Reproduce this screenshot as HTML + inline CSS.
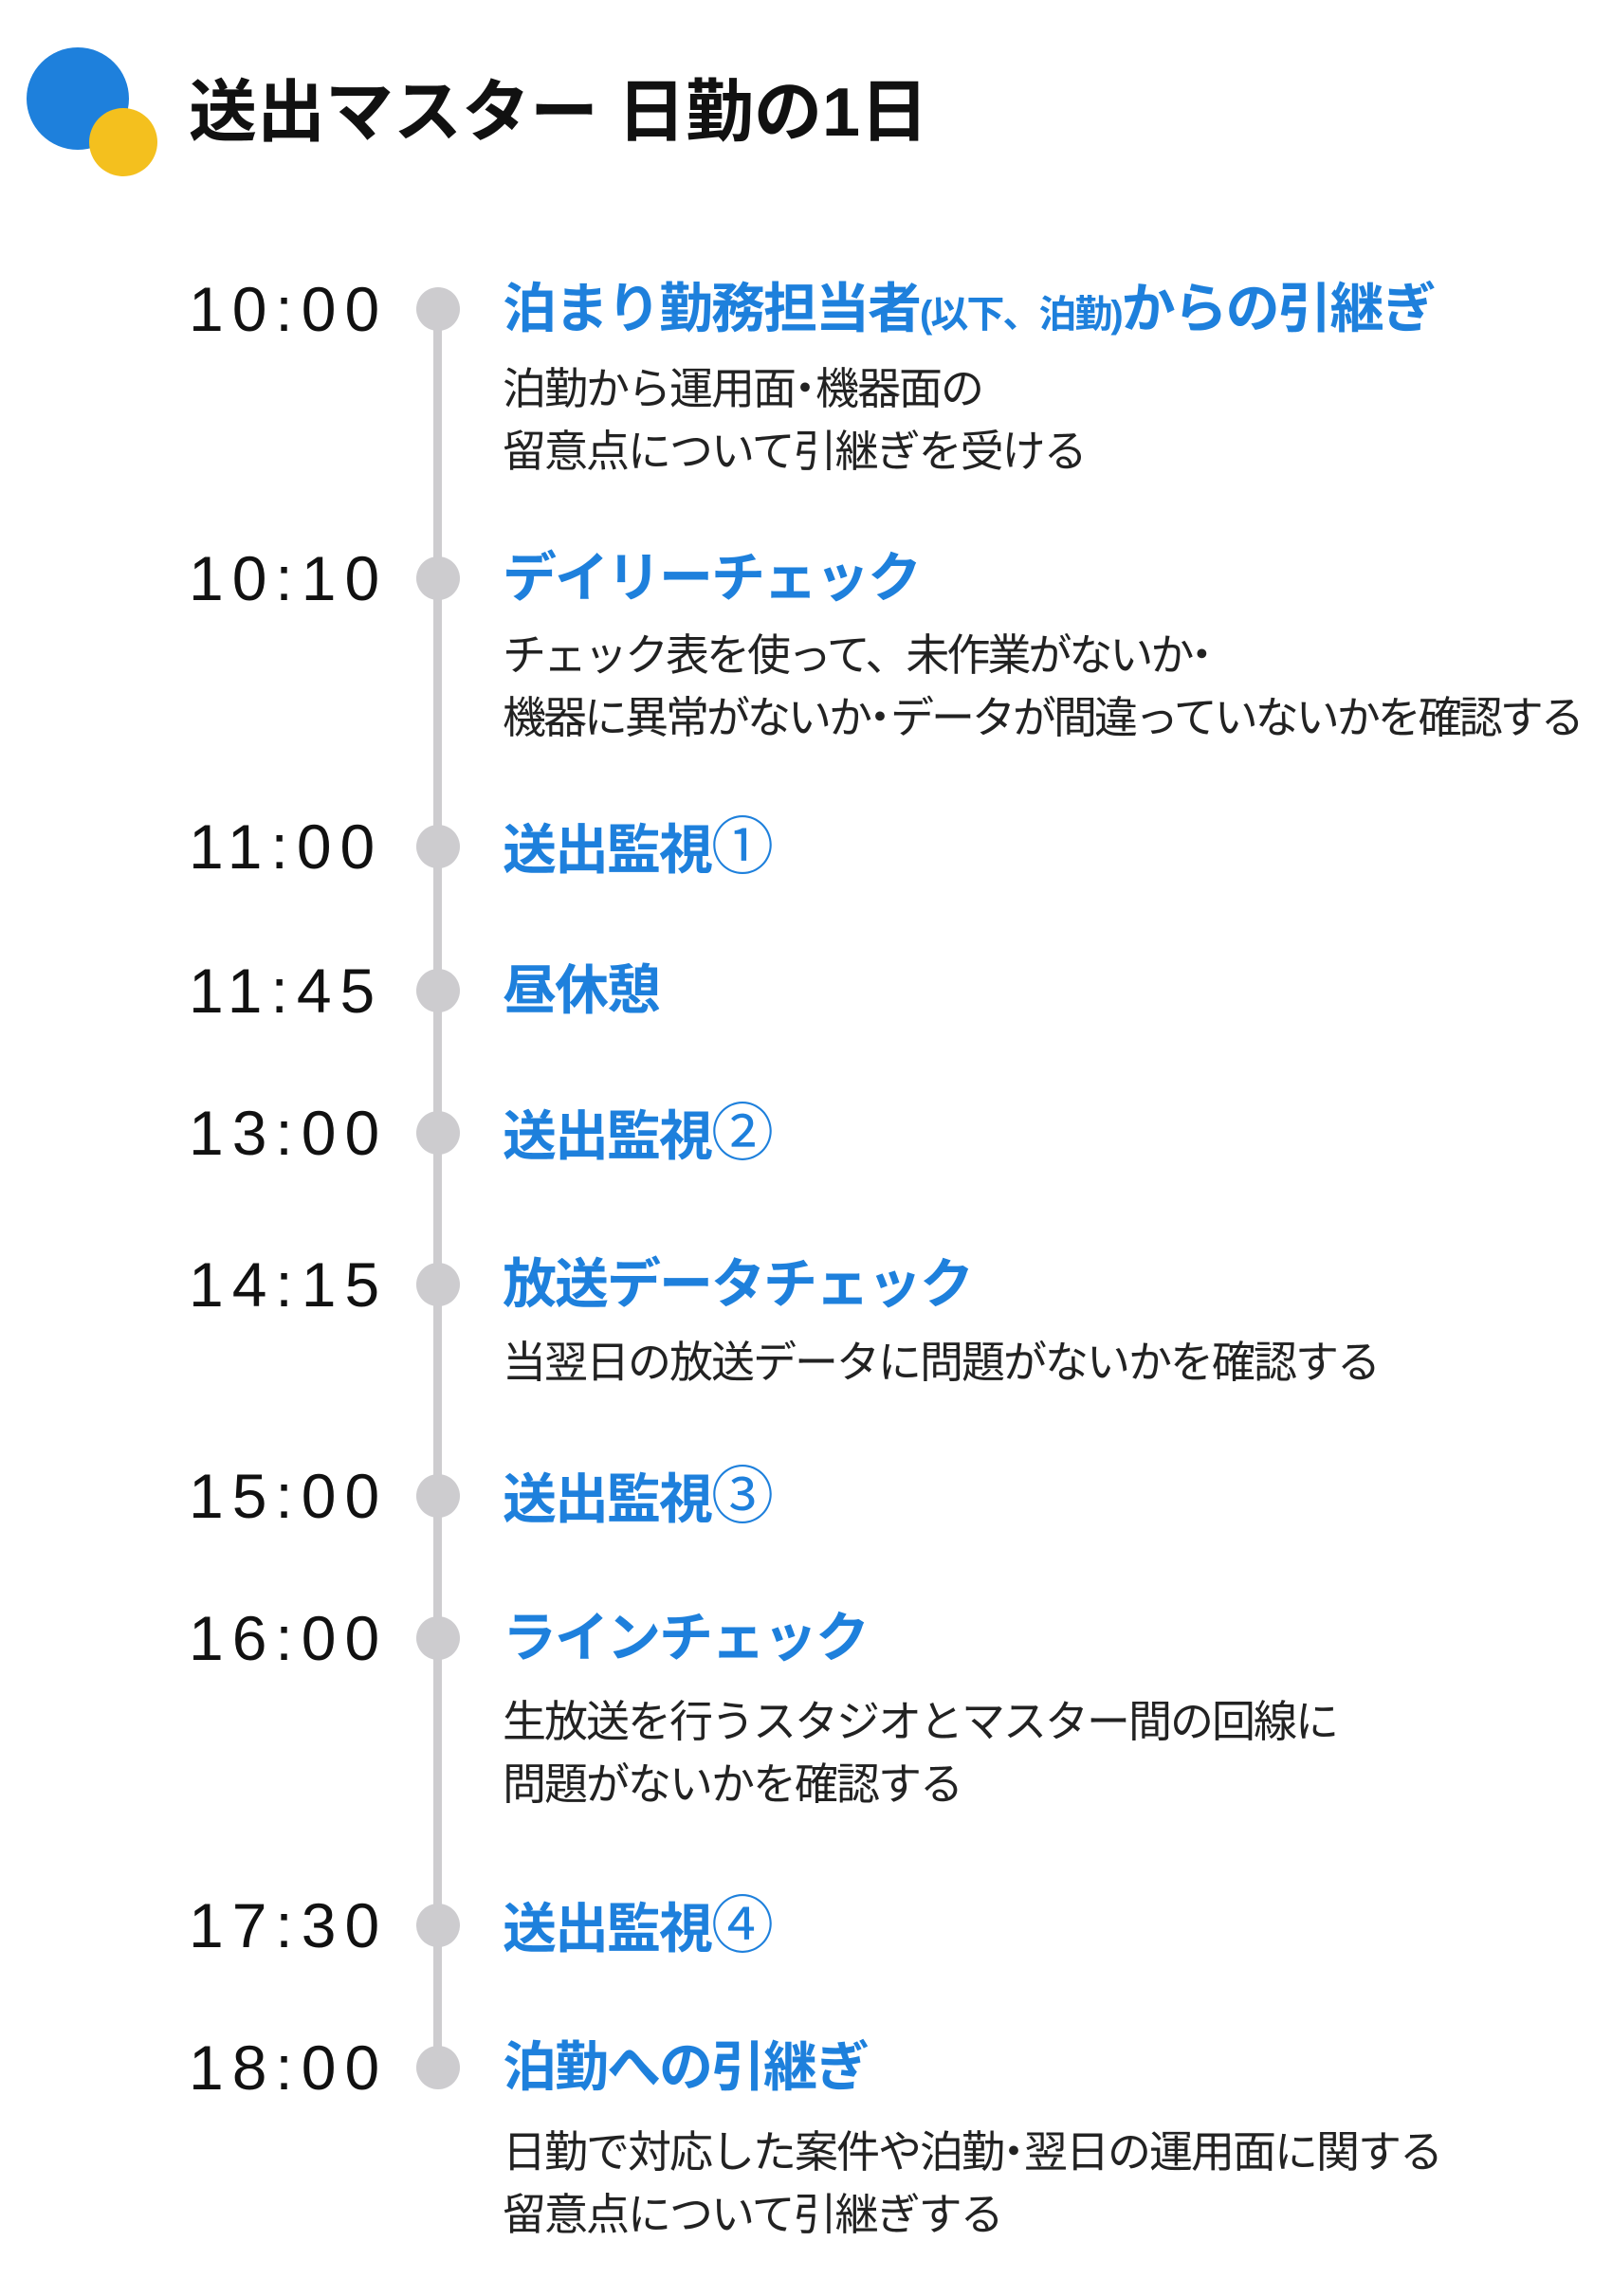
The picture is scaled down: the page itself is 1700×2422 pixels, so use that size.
<!DOCTYPE html>
<html><head><meta charset="utf-8">
<style>
html,body{margin:0;padding:0;background:#fff;}
body{width:1700px;height:2422px;position:relative;overflow:hidden;font-family:"Liberation Sans","Noto Sans CJK JP",sans-serif;}
.t{position:absolute;white-space:nowrap;}
.time{left:199px;font-size:66px;line-height:70px;height:70px;letter-spacing:9px;color:#111;font-family:"Liberation Sans",sans-serif;}
.h{left:530px;font-size:57px;line-height:70px;height:70px;color:#1e80dc;font-weight:bold;letter-spacing:-2px;}
.b{left:530px;font-size:46px;line-height:66px;color:#222;letter-spacing:-2px;}
.d{letter-spacing:0;margin:0 -12px;}
.dot{position:absolute;left:439px;width:46px;height:46px;border-radius:50%;background:#cdcccf;}
</style></head><body>
<div style="position:absolute;left:28px;top:50px;width:108px;height:108px;border-radius:50%;background:#1e80dc"></div>
<div style="position:absolute;left:94px;top:114px;width:72px;height:72px;border-radius:50%;background:#f4c01e"></div>
<div class="t" style="left:199px;top:79px;font-size:72px;line-height:80px;font-weight:bold;color:#111">送出マスター 日勤の1日</div>
<div style="position:absolute;left:457px;top:326px;width:9px;height:1855px;background:#cdcccf"></div>

<div class="dot" style="top:303px"></div>
<div class="dot" style="top:587px"></div>
<div class="dot" style="top:870px"></div>
<div class="dot" style="top:1022px"></div>
<div class="dot" style="top:1172px"></div>
<div class="dot" style="top:1332px"></div>
<div class="dot" style="top:1555px"></div>
<div class="dot" style="top:1705px"></div>
<div class="dot" style="top:2008px"></div>
<div class="dot" style="top:2158px"></div>

<div class="t time" style="top:291px">10:00</div>
<div class="t time" style="top:575px">10:10</div>
<div class="t time" style="top:858px">11:00</div>
<div class="t time" style="top:1010px">11:45</div>
<div class="t time" style="top:1160px">13:00</div>
<div class="t time" style="top:1320px">14:15</div>
<div class="t time" style="top:1543px">15:00</div>
<div class="t time" style="top:1693px">16:00</div>
<div class="t time" style="top:1996px">17:30</div>
<div class="t time" style="top:2146px">18:00</div>

<div class="t h" style="top:291px">泊まり勤務担当者<span style="font-size:40px">(以下、泊勤)</span>からの引継ぎ</div>
<div class="t b" style="top:377px">泊勤から運用面<span class="d">・</span>機器面の<br>留意点について引継ぎを受ける</div>
<div class="t h" style="top:575px">デイリーチェック</div>
<div class="t b" style="top:658px;letter-spacing:-3px">チェック表を使って、未作業がないか<span class="d">・</span><br>機器に異常がないか<span class="d">・</span>データが間違っていないかを確認する</div>
<div class="t h" style="top:858px">送出監視<span style="font-size:66px;font-weight:normal">①</span></div>
<div class="t h" style="top:1010px">昼休憩</div>
<div class="t h" style="top:1160px">送出監視<span style="font-size:66px;font-weight:normal">②</span></div>
<div class="t h" style="top:1320px">放送データチェック</div>
<div class="t b" style="top:1404px">当翌日の放送データに問題がないかを確認する</div>
<div class="t h" style="top:1543px">送出監視<span style="font-size:66px;font-weight:normal">③</span></div>
<div class="t h" style="top:1693px">ラインチェック</div>
<div class="t b" style="top:1783px">生放送を行うスタジオとマスター間の回線に<br>問題がないかを確認する</div>
<div class="t h" style="top:1996px">送出監視<span style="font-size:66px;font-weight:normal">④</span></div>
<div class="t h" style="top:2146px">泊勤への引継ぎ</div>
<div class="t b" style="top:2237px">日勤で対応した案件や泊勤<span class="d">・</span>翌日の運用面に関する<br>留意点について引継ぎする</div>
</body></html>
